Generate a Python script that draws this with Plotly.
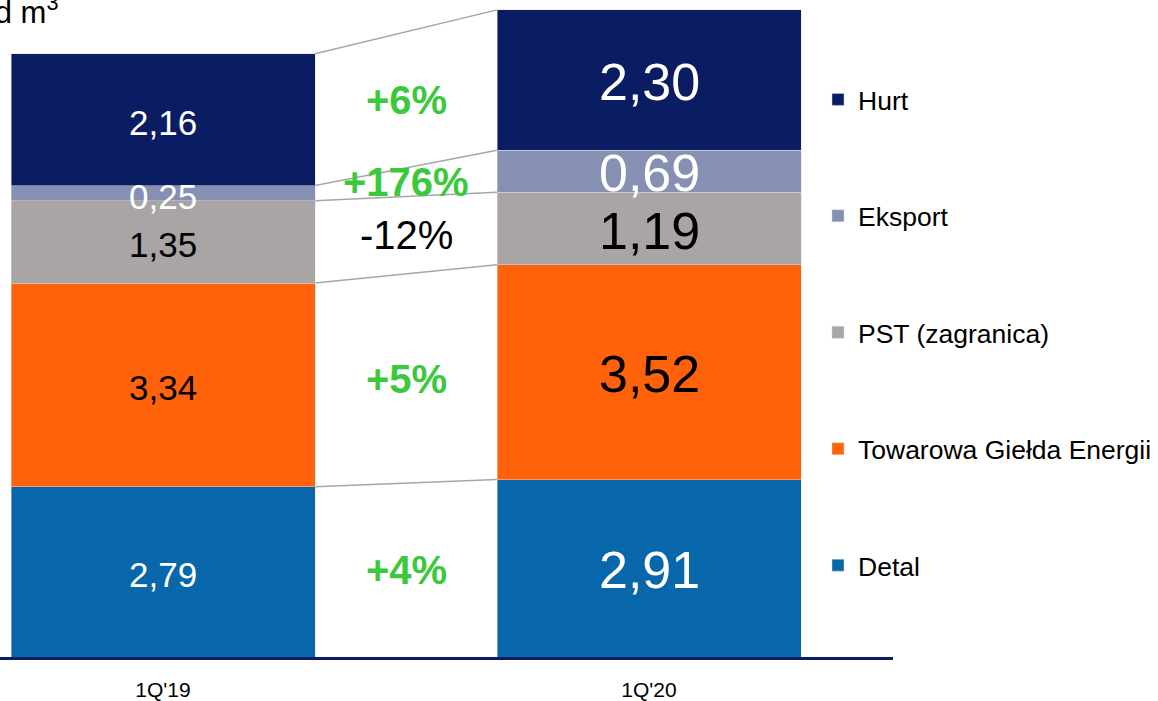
import plotly.graph_objects as go

periods = ["1Q'19", "1Q'20"]
series_names = ["Detal", "Towarowa Giełda Energii", "PST (zagranica)", "Eksport", "Hurt"]
values_1q19 = [2.79, 3.34, 1.35, 0.25, 2.16]
values_1q20 = [2.91, 3.52, 1.19, 0.69, 2.30]
unit_label = "mld m<sup>3</sup>"

colors = ["#0767AA", "#FF620A", "#A8A5A4", "#8590B3", "#0B1D62"]
label_colors = ["white", "black", "black", "white", "white"]
green = "#3CC83C"
font_family = "Liberation Sans, Arial, sans-serif"

bar_w = 0.6255
x_pos = [0, 1]

fig = go.Figure()
n = len(series_names)
for i, name in enumerate(series_names):
    fig.add_trace(go.Bar(
        x=x_pos, y=[values_1q19[i], values_1q20[i]], name=name, width=bar_w,
        marker=dict(color=colors[i], line=dict(color="rgba(220,220,220,0.8)", width=0.6)),
        legendgroup=name, legendrank=n - i, hoverinfo="skip",
    ))

annotations = []
shapes = []
cum1 = 0.0
cum2 = 0.0
for i, name in enumerate(series_names):
    v1, v2 = values_1q19[i], values_1q20[i]
    mid1 = cum1 + v1 / 2
    mid2 = cum2 + v2 / 2
    annotations.append(dict(x=0, y=mid1, xref="x", yref="y", showarrow=False, yshift=-3,
                            text=f"{v1:.2f}".replace(".", ","),
                            font=dict(family=font_family, size=35, color=label_colors[i])))
    annotations.append(dict(x=1, y=mid2, xref="x", yref="y", showarrow=False, yshift=-2,
                            text=f"{v2:.2f}".replace(".", ","),
                            font=dict(family=font_family, size=52, color=label_colors[i])))
    change = round((v2 / v1 - 1) * 100)
    if change >= 0:
        txt = f"<b>+{change}%</b>"
        col = green
    else:
        txt = f"{change}%"
        col = "black"
    annotations.append(dict(x=0.5, y=(mid1 + mid2) / 2, xref="x", yref="y", showarrow=False,
                            text=txt, font=dict(family=font_family, size=40, color=col)))
    cum1 += v1
    cum2 += v2
    shapes.append(dict(type="line", xref="x", yref="y",
                       x0=bar_w / 2, x1=1 - bar_w / 2, y0=cum1, y1=cum2,
                       line=dict(color="#A6A6A6", width=1.5), layer="below"))

annotations.append(dict(x=-40 / 893, y=1 - 10 / 660, xref="paper", yref="paper",
                        xanchor="left", yanchor="middle", showarrow=False,
                        text=unit_label, font=dict(family=font_family, size=31, color="black")))

fig.update_layout(
    width=1158, height=701,
    margin=dict(l=0, r=265, t=0, b=41),
    barmode="stack",
    plot_bgcolor="white", paper_bgcolor="white",
    showlegend=True,
    legend=dict(x=818 / 893, xanchor="left", y=1 - 76 / 660, yanchor="top",
                traceorder="grouped", tracegroupgap=79,
                font=dict(family=font_family, size=26.5, color="black"),
                bgcolor="rgba(0,0,0,0)"),
    xaxis=dict(range=[-163 / 486, (893 - 163) / 486], tickvals=x_pos, ticktext=periods,
               showgrid=False, zeroline=False, showline=True, linecolor="#0B1D62", linewidth=2.5,
               ticks="", ticklabelstandoff=12,
               tickfont=dict(family=font_family, size=21, color="black")),
    yaxis=dict(range=[0, 660 / 61.27], showgrid=False, zeroline=False, showline=False,
               showticklabels=False),
    annotations=annotations,
    shapes=shapes,
)

fig.write_html("out.html", config={"displayModeBar": False},
               post_script="document.body.style.margin='0px';document.body.style.overflow='hidden';")
